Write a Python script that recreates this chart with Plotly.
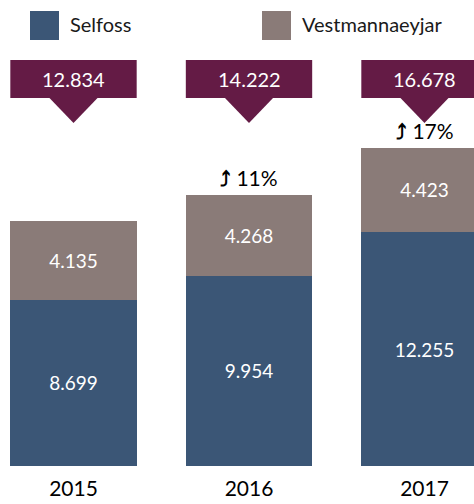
import plotly.graph_objects as go

years = ["2015", "2016", "2017"]
selfoss = [8699, 9954, 12255]
vestm = [4135, 4268, 4423]
totals = [12834, 14222, 16678]
growth_labels = ["", "11%", "17%"]

C_SELF = "#3B5676"
C_VEST = "#8A7B78"
C_CALL = "#641B45"
FONT = "Lato"

def fmt(v):
    return f"{v:,}".replace(",", ".")

x = list(range(len(years)))
PX_H = 466.0
W = 474.0

fig = go.Figure()
fig.add_bar(x=x, y=selfoss, marker_color=C_SELF, marker_line_width=0, width=0.72, name="Selfoss",
            text=[fmt(v) for v in selfoss], textposition="inside",
            insidetextanchor="middle", textangle=0,
            textfont=dict(color="white", size=19, family=FONT))
fig.add_bar(x=x, y=vestm, marker_color=C_VEST, marker_line_width=0, width=0.72, name="Vestmannaeyjar",
            text=[fmt(v) for v in vestm], textposition="inside",
            insidetextanchor="middle", textangle=0,
            textfont=dict(color="white", size=19, family=FONT))

def py(p):
    return 1 - p / PX_H

shapes = []
annos = []
hw = 25 / 175.5
for i, t in enumerate(totals):
    top, bot, apex = 60, 98, 123
    shapes.append(dict(type="rect", xref="x", yref="paper", x0=i - 0.36, x1=i + 0.36,
                       y0=py(bot), y1=py(top), fillcolor=C_CALL, line=dict(width=0), layer="above"))
    shapes.append(dict(type="path", xref="x", yref="paper",
                       path=f"M {i-hw},{py(bot-1)} L {i+hw},{py(bot-1)} L {i},{py(apex)} Z",
                       fillcolor=C_CALL, line=dict(width=0), layer="above"))
    annos.append(dict(x=i, y=py((top + bot) / 2), xref="x", yref="paper", text=fmt(t),
                      showarrow=False, xanchor="center", yanchor="middle",
                      font=dict(color="white", size=20, family=FONT)))
    if growth_labels[i]:
        annos.append(dict(x=i, y=t, xref="x", yref="y", text="<b>⤴</b> " + growth_labels[i],
                          showarrow=False, xanchor="center", yanchor="bottom", yshift=3,
                          font=dict(color="black", size=21, family=FONT)))

# legend
for (xs, label, col) in [(30, "Selfoss", C_SELF), (262, "Vestmannaeyjar", C_VEST)]:
    shapes.append(dict(type="rect", xref="paper", yref="paper", x0=xs / W, x1=(xs + 29) / W,
                       y0=py(40), y1=py(11), fillcolor=col, line=dict(width=0)))
    annos.append(dict(x=(xs + 38) / W, y=py(24), xref="paper", yref="paper", text=label,
                      showarrow=False, xanchor="left", yanchor="middle",
                      font=dict(color="#1a1a1a", size=20, family=FONT)))

fig.update_layout(
    barmode="stack", width=474, height=504,
    margin=dict(l=0, r=0, t=0, b=38, autoexpand=False),
    paper_bgcolor="white", plot_bgcolor="white",
    showlegend=False, shapes=shapes, annotations=annos,
    xaxis=dict(range=[-73.5 / 175.5, (W - 73.5) / 175.5], tickvals=x, ticktext=years,
               showgrid=False, zeroline=False, showline=False, ticks="",
               tickfont=dict(size=21, family=FONT, color="black"), ticklabelstandoff=8),
    yaxis=dict(range=[0, PX_H / 0.01909], visible=False),
    font=dict(family=FONT),
)
fig.write_html("out.html", config={"displayModeBar": False},
               post_script="document.body.style.margin='0';document.body.style.overflow='hidden';")
